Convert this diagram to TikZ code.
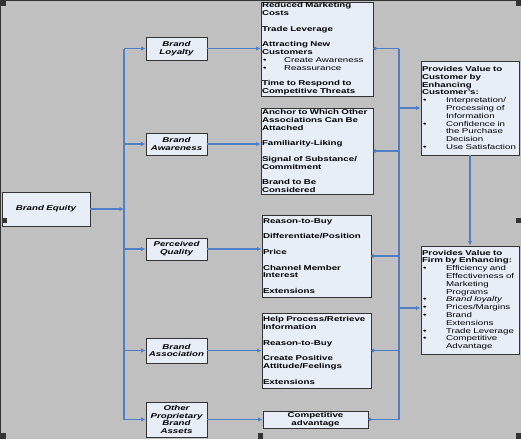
\documentclass[tikz,border=0pt]{standalone}
\usepackage{fontspec}
\setmainfont{Liberation Sans}[FakeStretch=1.39]
\usetikzlibrary{arrows.meta}
\definecolor{bggray}{HTML}{C0C0C0}
\definecolor{boxfill}{HTML}{E8EEF8}
\definecolor{boxline}{HTML}{333333}
\definecolor{linkblue}{HTML}{4F7FC6}
\newcommand{\dotitem}[2][22pt]{\makebox[#1][l]{\hspace{1pt}\textbullet}{#2}}

\begin{document}
\begin{tikzpicture}[x=1pt, y=-1pt,
    box/.style={draw=boxline, fill=boxfill, line width=0.9pt, inner xsep=1pt, inner ysep=0pt},
    namebox/.style={box, font=\fontsize{7}{7.8}\selectfont\bfseries\itshape, align=center, text width=59pt},
    textbox/.style={box, font=\fontsize{7}{7.8}\selectfont\bfseries, align=left},
    wire/.style={draw=linkblue, line width=1.2pt},
    link/.style={wire, -{Latex[length=4.5pt, width=4.5pt]}},
    dotlink/.style={wire, {Circle[length=3.5pt]}-},
    grip/.style={fill=black!80}]
    \fill[bggray] (0,0) rectangle (521,439);
    \useasboundingbox (0,0) rectangle (521,439);

    \node[namebox, text width=86pt, minimum height=34pt] (equity) at (46,209) {Brand Equity};
    \node[namebox, minimum height=23pt] (loyalty) at (176.5,48.5) {Brand\\Loyalty};
    \node[namebox, minimum height=22pt] (awareness) at (176.5,144) {Brand\\Awareness};
    \node[namebox, minimum height=22pt] (quality) at (176.5,249) {Perceived\\Quality};
    \node[namebox, minimum height=25pt] (association) at (176.5,350.5) {Brand\\Association};
    \node[namebox, minimum height=35pt] (other) at (176.5,419.5) {Other\\Proprietary\\Brand\\Assets};

    \node[textbox, text width=110pt, minimum height=94pt] (d1) at (317,49) {Reduced Marketing\\
        Costs\\[7.8pt]
        Trade Leverage\\[7.8pt]
        Attracting New\\
        Customers\\
        {\mdseries\dotitem{Create Awareness}\\
        \dotitem{Reassurance}}\\[7.8pt]
        Time to Respond to\\
        Competitive Threats};
    \node[textbox, text width=110pt, minimum height=86pt] (d2) at (317,151) {Anchor to Which Other\\
        Associations Can Be\\
        Attached\\[7.8pt]
        Familiarity-Liking\\[7.8pt]
        Signal of Substance/\\
        Commitment\\[7.8pt]
        Brand to Be\\
        Considered};
    \node[textbox, text width=107pt, minimum height=82pt] (d3) at (316.5,256) {Reason-to-Buy\\[7.8pt]
        Differentiate/Position\\[7.8pt]
        Price\\[7.8pt]
        Channel Member\\
        Interest\\[7.8pt]
        Extensions};
    \node[textbox, text width=107pt, minimum height=75pt] (d4) at (316.5,350.5) {Help Process/Retrieve\\
        Information\\[7.8pt]
        Reason-to-Buy\\[7.8pt]
        Create Positive\\
        Attitude/Feelings\\[7.8pt]
        Extensions};
    \node[textbox, align=center, text width=103pt, minimum height=17pt] (d5) at (315.5,419.5) {Competitive\\advantage};

    \node[textbox, text width=96pt, minimum height=94pt] (cust) at (470,108) {Provides Value to\\
        Customer by\\
        Enhancing\\
        Customer's:\\
        \mdseries\dotitem[24pt]{Interpretation/}\\
        \hspace*{24pt}Processing of\\
        \hspace*{24pt}Information\\
        \dotitem[24pt]{Confidence in}\\
        \hspace*{24pt}the Purchase\\
        \hspace*{24pt}Decision\\
        \dotitem[24pt]{Use Satisfaction}};
    \node[textbox, text width=96pt, minimum height=108pt] (firm) at (470,300) {Provides Value to\\
        Firm by Enhancing:\\
        \mdseries\dotitem[24pt]{Efficiency and}\\
        \hspace*{24pt}Effectiveness of\\
        \hspace*{24pt}Marketing\\
        \hspace*{24pt}Programs\\
        \dotitem[24pt]{\itshape Brand loyalty}\\
        \dotitem[24pt]{Prices/Margins}\\
        \dotitem[24pt]{Brand}\\
        \hspace*{24pt}Extensions\\
        \dotitem[24pt]{Trade Leverage}\\
        \dotitem[24pt]{Competitive}\\
        \hspace*{24pt}Advantage};

    \coordinate (lt) at (124,0);
    \coordinate (rt) at (399,0);
    \coordinate (firmin) at ([yshift=-8pt]firm.west);

    \draw[link] (equity.east) -- (equity.east -| lt);
    \draw[wire] (loyalty -| lt) -- (other -| lt);
    \draw[link] (loyalty -| lt) -- (loyalty.west);
    \draw[link] (awareness -| lt) -- (awareness.west);
    \draw[link] (quality -| lt) -- (quality.west);
    \draw[link] (association -| lt) -- (association.west);
    \draw[link] (other -| lt) -- (other.west);

    \draw[link] (loyalty.east) -- (loyalty.east -| d1.west);
    \draw[link] (awareness.east) -- (awareness.east -| d2.west);
    \draw[link] (quality.east) -- (quality.east -| d3.west);
    \draw[link] (association.east) -- (association.east -| d4.west);
    \draw[link] (other.east) -- (other.east -| d5.west);

    \draw[wire] (loyalty -| rt) -- (d5.east -| rt);
    \draw[dotlink] (d1.east |- loyalty) -- (loyalty -| rt);
    \draw[dotlink] (d2.east) -- (d2.east -| rt);
    \draw[dotlink] (d3.east) -- (d3.east -| rt);
    \draw[dotlink] (d4.east) -- (d4.east -| rt);
    \draw[dotlink] (d5.east) -- (d5.east -| rt);
    \draw[link] (cust.west -| rt) -- (cust.west);
    \draw[link] (firmin -| rt) -- (firmin);
    \draw[link] (cust.south) -- (firm.north);

    \draw[boxline, line width=1pt] (0.5,439) -- (0.5,0.5) -- (521,0.5);
    \fill[grip] (0,0) rectangle (6,6);
    \fill[grip] (3,218) rectangle (7,223);
    \fill[grip] (0,433) rectangle (6,439);
    \fill[grip] (258,433) rectangle (263,439);
    \fill[grip] (516,433) rectangle (521,439);
    \fill[grip] (516,218) rectangle (521,223);
    \fill[grip] (516,0) rectangle (521,6);
\end{tikzpicture}
\end{document}
